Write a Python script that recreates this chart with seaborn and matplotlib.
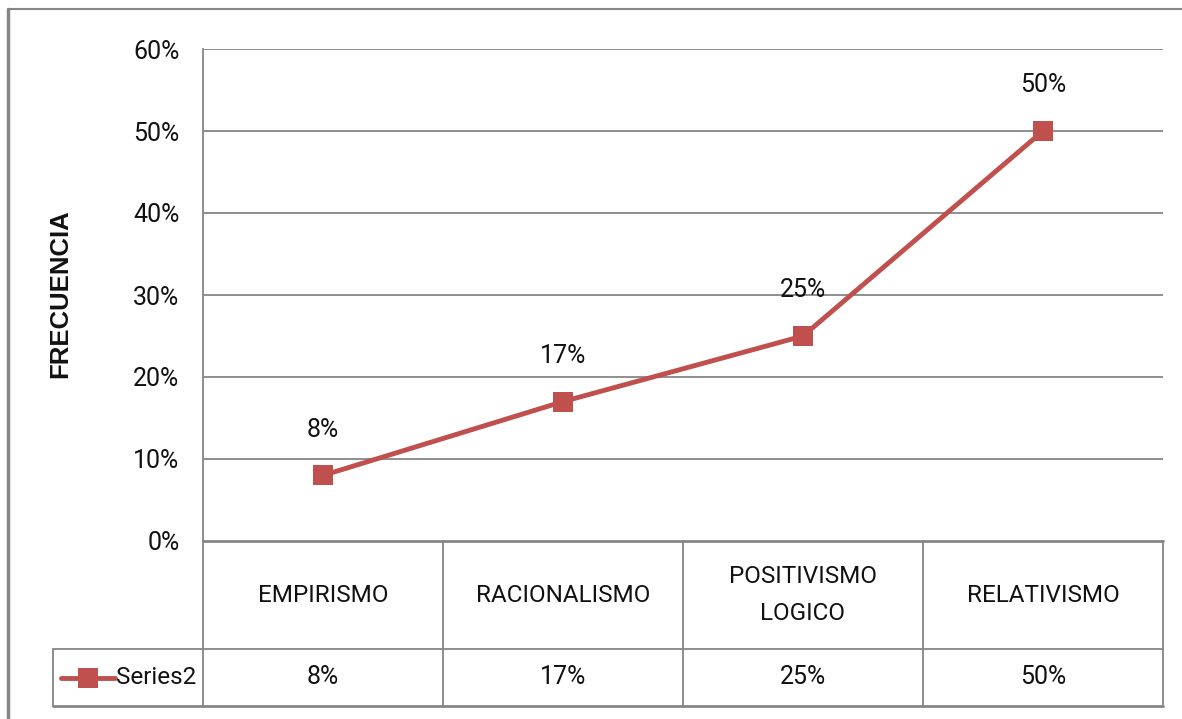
import matplotlib
matplotlib.use("Agg")
import matplotlib.pyplot as plt
import seaborn as sns
import pandas as pd
from matplotlib.lines import Line2D

categories = ["EMPIRISMO", "RACIONALISMO", "POSITIVISMO\nLOGICO", "RELATIVISMO"]
values = [8, 17, 25, 50]
series_name = "Series2"
y_ticks = [0, 10, 20, 30, 40, 50, 60]
y_label = "FRECUENCIA"

sns.set_theme(style="white")
plt.rcParams["font.family"] = ["Roboto", "DejaVu Sans"]
plt.rcParams["text.color"] = "#111111"

W, H = 1182, 719
fig = plt.figure(figsize=(W / 100, H / 100), dpi=100)

def fx(px):
    return px / W

def fy(py):
    return 1 - py / H

FS = 17.5
left, right, top, bottom = 203, 1163, 49, 541
ax = fig.add_axes([fx(left), fy(bottom), fx(right) - fx(left), fy(top) - fy(bottom)])

df = pd.DataFrame({"pos": range(len(values)), "val": values})
red = "#C0504D"
grid_c = "#868686"

sns.lineplot(data=df, x="pos", y="val", ax=ax, color=red, linewidth=3.5,
             marker="s", markersize=14.5, markeredgewidth=0, zorder=3)

ax.set_xlim(-0.5, len(values) - 0.5)
ax.set_ylim(0, 60)
ax.set_yticks(y_ticks)
ax.set_yticklabels([f"{t}%" for t in y_ticks], fontsize=18, color="#111111")
ax.tick_params(axis="y", length=0, pad=17)
ax.set_xticks([])
ax.set_xlabel("")
ax.set_ylabel("")
for t in y_ticks[1:]:
    ax.axhline(t, color=grid_c, linewidth=1.3, zorder=1)
for s in ["top", "right", "bottom"]:
    ax.spines[s].set_visible(False)
ax.spines["left"].set_color(grid_c)
ax.spines["left"].set_linewidth(1.3)

for i, v in enumerate(values):
    ax.annotate(f"{v}%", (i, v), xytext=(0, 33), textcoords="offset points",
                ha="center", va="center", fontsize=18)

fig.text(fx(60), fy(294), y_label, rotation=90, ha="center", va="center",
         fontsize=18.5, fontweight="bold", family="Liberation Sans", color="#111111")

# data table underneath the plot
def hline(y, x0, x1, lw=1.3):
    fig.add_artist(Line2D([fx(x0), fx(x1)], [fy(y), fy(y)], color=grid_c, linewidth=lw))

def vline(x, y0, y1, lw=1.3):
    fig.add_artist(Line2D([fx(x), fx(x)], [fy(y0), fy(y1)], color=grid_c, linewidth=lw))

row1, row2, row3 = 541, 649, 706
col_w = (right - left) / len(categories)
hline(row1, left, right, lw=2)
hline(row2, 53, right)
hline(row3, 53, right, lw=2)
vline(53, row2, row3)
for i in range(len(categories) + 1):
    vline(left + i * col_w, row1, row3)

for i, (c, v) in enumerate(zip(categories, values)):
    cx = left + (i + 0.5) * col_w
    fig.text(fx(cx), fy((row1 + row2) / 2), c, ha="center", va="center",
             fontsize=FS, linespacing=1.82)
    fig.text(fx(cx), fy((row2 + row3) / 2), f"{v}%", ha="center", va="center",
             fontsize=18)

ly = (row2 + row3) / 2
fig.add_artist(Line2D([fx(61), fx(115)], [fy(ly), fy(ly)], color=red, linewidth=3.5))
fig.add_artist(Line2D([fx(88)], [fy(ly)], color=red, marker="s", markersize=14.5,
                      markeredgewidth=0))
fig.text(fx(116), fy(ly), series_name, ha="left", va="center", fontsize=FS)

# outer frame
fig.add_artist(Line2D([fx(8), fx(8)], [fy(9), 0], color=grid_c, linewidth=2.5))
fig.add_artist(Line2D([fx(8), 1], [fy(9), fy(9)], color=grid_c, linewidth=1.5))

fig.savefig("out.png", dpi=100, facecolor="white")
